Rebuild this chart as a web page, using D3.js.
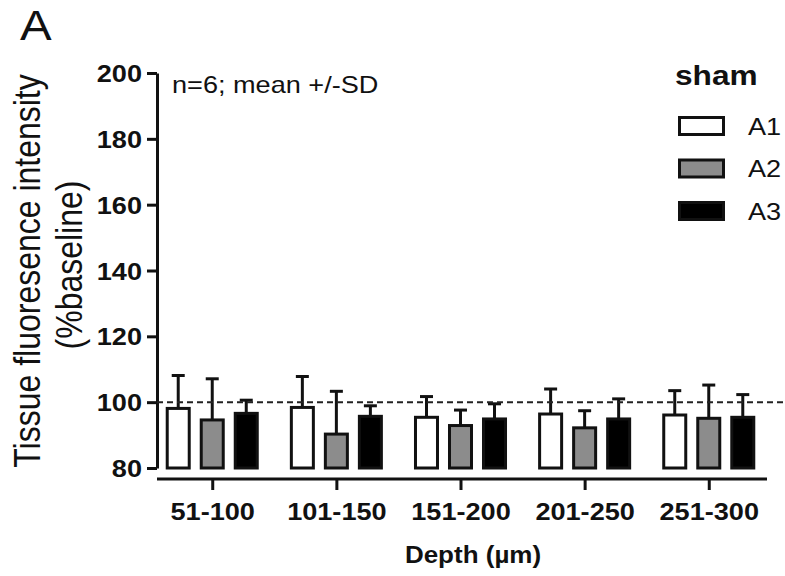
<!DOCTYPE html>
<html>
<head>
<meta charset="utf-8">
<script src="https://cdn.jsdelivr.net/npm/d3@7"></script>
<style>
  body { margin: 0; background: #fff; }
  svg { display: block; }
  text { font-family: "Liberation Sans", Arial, sans-serif; fill: #111; }
</style>
</head>
<body>
<div id="chart"></div>
<script>
// depth bins (x categories) and the three series
const depths = ['51-100', '101-150', '151-200', '201-250', '251-300'];
const series = ['A1', 'A2', 'A3'];
const yTicks = [80, 100, 120, 140, 160, 180, 200];

// mean and SD per depth bin
const meanA1 = [98.1, 98.4, 95.4, 96.4, 96.1];
const sdA1   = [10.0, 9.4, 6.3, 7.6, 7.4];
const meanA2 = [94.6, 90.3, 92.9, 92.2, 95.1];
const sdA2   = [12.5, 13.0, 4.7, 5.2, 10.1];
const meanA3 = [96.6, 95.7, 94.9, 94.9, 95.4];
const sdA3   = [4.0, 3.2, 4.6, 6.1, 6.9];

const baseline = 100;

const fills = { A1: '#ffffff', A2: '#8c8c8c', A3: '#000000' };
const SX = 1.13; // the figure's lettering is a bit wider than Arial

const means = { A1: meanA1, A2: meanA2, A3: meanA3 };
const sds = { A1: sdA1, A2: sdA2, A3: sdA3 };
const rows = [];
depths.forEach((d, i) => series.forEach(s => rows.push({ depth: d, key: s, mean: means[s][i], sd: sds[s][i] })));

const W = 785, H = 576;
const svg = d3.select('#chart').append('svg').attr('width', W).attr('height', H);

const y = d3.scaleLinear().domain([80, 200]).range([468, 73]);
const x = d3.scalePoint().domain(depths).range([157, 764]).padding(0.445);
const xi = d3.scaleBand().domain(series).range([-51, 51]).paddingInner(0.353).paddingOuter(0.176);

// helper: put a text at (px,py) with the horizontal stretch
function label(txt, px, py, size, weight, anchor) {
  return svg.append('text')
    .attr('transform', `translate(${px},${py}) scale(${SX},1)`)
    .attr('text-anchor', anchor || 'start')
    .style('font-size', size + 'px')
    .style('font-weight', weight || 'normal')
    .text(txt);
}

// y axis
const yAxis = svg.append('g')
  .attr('transform', 'translate(157,0)')
  .call(d3.axisLeft(y).tickValues(yTicks).tickSize(10).tickSizeOuter(0).tickPadding(0));
yAxis.select('.domain').attr('stroke', '#111').attr('stroke-width', 3);
yAxis.selectAll('.tick line').attr('stroke', '#111').attr('stroke-width', 3);
yAxis.selectAll('.tick text')
  .attr('x', -15 / SX).attr('dy', '0.36em')
  .attr('transform', `scale(${SX},1)`)
  .style('font-size', '24px').style('font-weight', 'bold')
  .style('font-family', '"Liberation Sans", Arial, sans-serif').attr('fill', '#111');

// x axis (separate line below the plot)
const xAxis = svg.append('g')
  .attr('transform', 'translate(0,479)')
  .call(d3.axisBottom(x).tickSize(11).tickSizeOuter(0));
xAxis.select('.domain').remove();
xAxis.append('line').attr('x1', 157).attr('x2', 767).attr('stroke', '#111').attr('stroke-width', 3);
xAxis.selectAll('.tick line').attr('stroke', '#111').attr('stroke-width', 3);
xAxis.selectAll('.tick text')
  .attr('y', 41).attr('dy', 0)
  .attr('transform', `scale(${SX},1)`)
  .style('font-size', '24px').style('font-weight', 'bold')
  .style('font-family', '"Liberation Sans", Arial, sans-serif').attr('fill', '#111');
// scale(SX,1) moves the tick text sideways too, so undo that on its x
xAxis.selectAll('.tick text').attr('x', 0);

// bars
const bar = svg.append('g').selectAll('g')
  .data(rows).join('g')
  .attr('transform', d => `translate(${x(d.depth) + xi(d.key) + xi.bandwidth() / 2},0)`);

// error bars (upper half only visible), drawn first so the bars sit over them
bar.append('line')
  .attr('y1', d => y(d.mean)).attr('y2', d => y(d.mean + d.sd))
  .attr('stroke', '#111').attr('stroke-width', 3);
bar.append('line')
  .attr('x1', -6.5).attr('x2', 6.5)
  .attr('y1', d => y(d.mean + d.sd)).attr('y2', d => y(d.mean + d.sd))
  .attr('stroke', '#111').attr('stroke-width', 3);

bar.append('rect')
  .attr('x', -xi.bandwidth() / 2)
  .attr('width', xi.bandwidth())
  .attr('y', d => y(d.mean))
  .attr('height', d => y(80) - y(d.mean))
  .attr('fill', d => fills[d.key])
  .attr('stroke', '#111').attr('stroke-width', 3);

// 100% reference line
svg.append('line')
  .attr('x1', 157).attr('x2', 785)
  .attr('y1', y(baseline)).attr('y2', y(baseline))
  .attr('stroke', '#222').attr('stroke-width', 2)
  .attr('stroke-dasharray', '6,4');

// texts
label('A', 20, 40, 42);
label('n=6; mean +/-SD', 172, 93, 24);
label('Depth (\u00b5m)', 473, 563, 23, 'bold', 'middle');

svg.append('text')
  .attr('transform', `translate(40,271) rotate(-90) scale(1,${SX})`)
  .attr('text-anchor', 'middle').style('font-size', '32px')
  .text('Tissue fluoresence intensity');
svg.append('text')
  .attr('transform', `translate(82,265) rotate(-90) scale(1,${SX})`)
  .attr('text-anchor', 'middle').style('font-size', '32px')
  .text('(%baseline)');

// legend
label('sham', 675, 85, 28, 'bold');
const legY = d3.scalePoint().domain(series).range([126, 211]);
const leg = svg.append('g').selectAll('g').data(series).join('g')
  .attr('transform', d => `translate(0,${legY(d)})`);
leg.append('rect')
  .attr('x', 679.5).attr('y', -8.5).attr('width', 44).attr('height', 17)
  .attr('fill', d => fills[d]).attr('stroke', '#111').attr('stroke-width', 3);
leg.append('text')
  .attr('transform', `translate(748,8.5) scale(${SX},1)`)
  .style('font-size', '24px')
  .text(d => d);
</script>
</body>
</html>
